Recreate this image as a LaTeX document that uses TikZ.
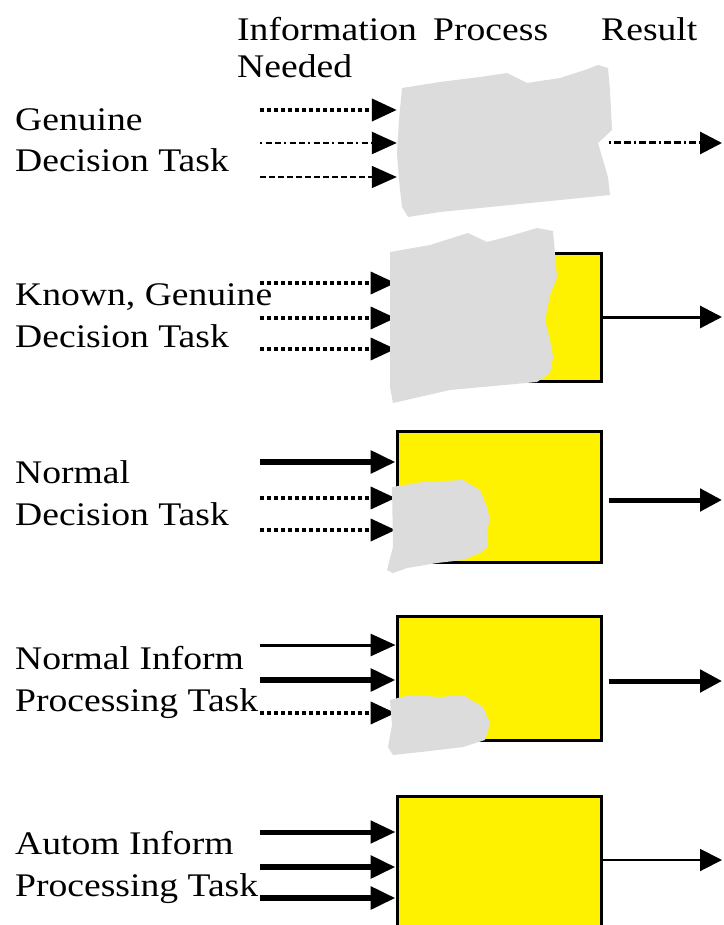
\documentclass[tikz,border=0pt]{standalone}
\usepackage{fontspec}
\setmainfont{Liberation Serif}[FakeStretch=1.14]
\usepackage{tikz}
\usetikzlibrary{arrows.meta, positioning, calc}

\definecolor{blobgray}{RGB}{220,220,220}

\begin{document}
\begin{tikzpicture}[
  x=1pt, y=-1pt,
  procbox/.style  = {draw, line width=3pt, fill=yellow, minimum width=204pt, inner sep=0pt},
  ghostbox/.style = {minimum width=204pt, minimum height=128pt, inner sep=0pt},
  tasklabel/.style = {anchor=base west, inner sep=0pt, align=left,
                      font=\fontsize{33}{41.5}\selectfont},
  head/.style     = {anchor=base west, inner sep=0pt, align=left,
                     font=\fontsize{33}{37}\selectfont},
  blob/.style     = {fill=blobgray},
  feed/.style     = {-{Triangle[length=25pt, width=22pt]}},
  result/.style   = {-{Triangle[length=22pt, width=22pt]}},
  dotfeed/.style  = {feed, line width=4pt, dash pattern=on 4pt off 3pt},
]
  \useasboundingbox (0,0) rectangle (723,925);

  % column heads (base = last line)
  \node[head] (hinfo) at (237,78) {Information\\Needed};
  \node[head] (hproc) at (433,41) {Process};
  \node[head] (hres)  at (601,41) {Result};

  % task labels
  \node[tasklabel] (tA) at (15,172) {Genuine\\Decision Task};
  \node[tasklabel] (tB) at (15,347) {Known, Genuine\\Decision Task};
  \node[tasklabel] (tC) at (15,525) {Normal\\Decision Task};
  \node[tasklabel] (tD) at (15,711) {Normal Inform\\Processing Task};
  \node[tasklabel] (tE) at (15,896) {Autom Inform\\Processing Task};

  % process boxes (first one is hidden under the blob)
  \node[ghostbox] (procA) at (499,143) {};
  \node[procbox, minimum height=128pt] (procB) at (499,317) {};
  \node[procbox, minimum height=131pt] (procC) at (499,496.5) {};
  \node[procbox, minimum height=124pt] (procD) at (499,678) {};
  \node[procbox, minimum height=144pt] (procE) at (499,868) {};

  % input starts
  \coordinate (inA1) at (260,110);
  \coordinate (inA2) at (260,143);
  \coordinate (inA3) at (260,177);
  \coordinate (inB1) at (260,283);
  \coordinate (inB2) at (260,318);
  \coordinate (inB3) at (260,349);
  \coordinate (inC1) at (260,462);
  \coordinate (inC2) at (260,498);
  \coordinate (inC3) at (260,530);
  \coordinate (inD1) at (260,645);
  \coordinate (inD2) at (260,680);
  \coordinate (inD3) at (260,713);
  \coordinate (inE1) at (260,832);
  \coordinate (inE2) at (260,867);
  \coordinate (inE3) at (260,898);

  % result ends
  \coordinate (outA) at (722,143);
  \coordinate (outB) at (722,317);
  \coordinate (outC) at (722,500);
  \coordinate (outD) at (722,681);
  \coordinate (outE) at (722,860);

  % genuine decision task
  \draw[dotfeed] (inA1) -- (inA1 -| procA.west);
  \draw[feed, line width=2.5pt, dash pattern=on 2pt off 4pt on 6pt off 3pt on 6pt off 3pt]
    (inA2) -- (inA2 -| procA.west);
  \draw[feed, line width=1.5pt, dash pattern=on 6pt off 3pt] (inA3) -- (inA3 -| procA.west);
  \draw[result, line width=3pt, dash pattern=on 2pt off 3pt on 7pt off 3pt on 7pt off 3pt]
    ($(procA.east |- outA)+(8,0)$) -- (outA);

  % known, genuine decision task
  \draw[dotfeed] (inB1) -- (inB1 -| procB.west);
  \draw[dotfeed] (inB2) -- (inB2 -| procB.west);
  \draw[dotfeed] (inB3) -- (inB3 -| procB.west);
  \draw[result, line width=3pt] (procB.east |- outB) -- (outB);

  % normal decision task
  \draw[feed, line width=6pt] (inC1) -- (inC1 -| procC.west);
  \draw[dotfeed] (inC2) -- (inC2 -| procC.west);
  \draw[dotfeed] (inC3) -- (inC3 -| procC.west);
  \draw[result, line width=5pt] ($(procC.east |- outC)+(6,0)$) -- (outC);

  % normal inform processing task
  \draw[feed, line width=3pt] (inD1) -- (inD1 -| procD.west);
  \draw[feed, line width=6pt] (inD2) -- (inD2 -| procD.west);
  \draw[dotfeed] (inD3) -- (inD3 -| procD.west);
  \draw[result, line width=5pt] ($(procD.east |- outD)+(6,0)$) -- (outD);

  % autom inform processing task
  \draw[feed, line width=5pt] (inE1) -- (inE1 -| procE.west);
  \draw[feed, line width=6pt] (inE2) -- (inE2 -| procE.west);
  \draw[feed, line width=6pt] (inE3) -- (inE3 -| procE.west);
  \draw[result, line width=2pt] (procE.east |- outE) -- (outE);

  % unknown parts of the process
  \fill[blob] (402,88) -- (440,82) -- (480,77) -- (507,73) -- (527,83) -- (560,78)
    -- (585,70) -- (598,65) -- (608,68) -- (610,90) -- (612,130) -- (598,143)
    -- (603,160) -- (608,177) -- (610,195) -- (560,200) -- (490,207) -- (440,212)
    -- (408,217) -- (402,207) -- (399,180) -- (397,153) -- (399,120) -- cycle;
  \fill[blob] (390,252) -- (430,245) -- (468,233) -- (487,242) -- (510,236)
    -- (537,228) -- (553,231) -- (557,277) -- (550,295) -- (545,320) -- (550,340)
    -- (553,357) -- (550,373) -- (537,382) -- (450,390) -- (393,403) -- (390,387)
    -- (390,320) -- cycle;
  \fill[blob] (392,487) -- (422,482) -- (463,480) -- (480,490) -- (487,507)
    -- (490,520) -- (487,530) -- (488,547) -- (480,553) -- (463,560) -- (437,563)
    -- (407,568) -- (393,573) -- (387,570) -- (393,547) -- cycle;
  \fill[blob] (390,700) -- (410,695) -- (440,697) -- (463,695) -- (483,707)
    -- (490,723) -- (485,740) -- (463,747) -- (430,751) -- (393,755) -- (388,747)
    -- (392,725) -- cycle;

\end{tikzpicture}
\end{document}
